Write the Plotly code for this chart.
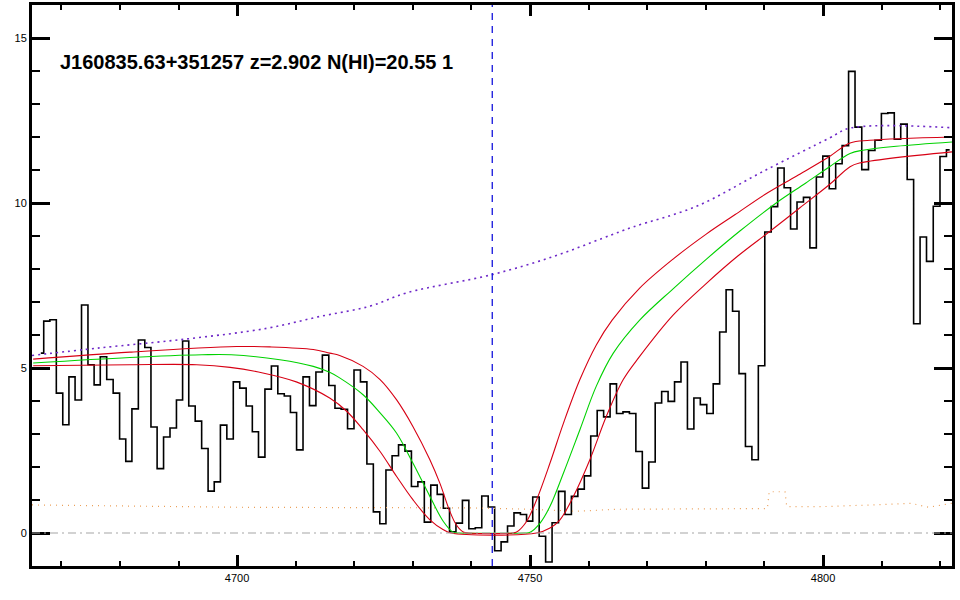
import plotly.graph_objects as go

# ---------------- data ----------------
wave = [4666.5, 4667.5, 4668.6, 4669.7, 4670.8, 4671.8, 4672.9, 4674.0, 4675.1, 4676.1,
        4677.2, 4678.3, 4679.4, 4680.5, 4681.5, 4682.6, 4683.7, 4684.8, 4685.8, 4686.9,
        4688.0, 4689.1, 4690.2, 4691.2, 4692.3, 4693.4, 4694.5, 4695.6, 4696.6, 4697.7,
        4698.8, 4699.9, 4701.0, 4702.1, 4703.1, 4704.2, 4705.3, 4706.4, 4707.5, 4708.6,
        4709.6, 4710.7, 4711.8, 4712.9, 4714.0, 4715.1, 4716.2, 4717.2, 4718.3, 4719.4,
        4720.5, 4721.6, 4722.7, 4723.8, 4724.9, 4725.9, 4727.0, 4728.1, 4729.2, 4730.3,
        4731.4, 4732.5, 4733.6, 4734.7, 4735.7, 4736.8, 4737.9, 4739.0, 4740.1, 4741.2,
        4742.3, 4743.4, 4744.5, 4745.6, 4746.7, 4747.8, 4748.9, 4749.9, 4751.0, 4752.1,
        4753.2, 4754.3, 4755.4, 4756.5, 4757.6, 4758.7, 4759.8, 4760.9, 4762.0, 4763.1,
        4764.2, 4765.3, 4766.4, 4767.5, 4768.6, 4769.7, 4770.8, 4771.9, 4773.0, 4774.1,
        4775.2, 4776.3, 4777.4, 4778.5, 4779.6, 4780.7, 4781.8, 4782.9, 4784.0, 4785.1,
        4786.2, 4787.3, 4788.4, 4789.5, 4790.6, 4791.7, 4792.8, 4793.9, 4795.0, 4796.1,
        4797.2, 4798.3, 4799.4, 4800.5, 4801.6, 4802.7, 4803.8, 4804.9, 4806.0, 4807.2,
        4808.3, 4809.4, 4810.5, 4811.6, 4812.7, 4813.8, 4814.9, 4816.0, 4817.1, 4818.2,
        4819.4, 4820.5, 4821.6]

flux = [5.45, 6.42, 6.46, 4.24, 3.28, 4.73, 4.03, 6.91, 5.10, 4.49,
        5.34, 4.65, 4.24, 2.85, 2.17, 3.76, 5.85, 5.62, 3.21, 1.95,
        2.91, 3.18, 4.03, 5.82, 3.85, 3.39, 2.56, 1.27, 1.55, 3.27,
        2.85, 4.58, 4.39, 3.85, 3.07, 2.30, 4.36, 5.06, 4.22, 4.15,
        3.65, 2.52, 4.73, 3.86, 4.88, 5.39, 4.47, 3.78, 3.75, 3.16,
        4.94, 4.58, 2.09, 0.64, 0.28, 1.91, 2.34, 2.67, 2.48, 1.41,
        1.55, 0.33, 1.45, 1.17, 0.75, 0.04, 0.30, 0.99, 0.13, 0.16,
        1.12, 0.79, -0.54, -0.27, 0.21, 0.61, 0.56, 0.36, 1.09, -0.10,
        -0.88, 0.31, 1.26, 0.56, 1.11, 1.33, 1.73, 2.94, 3.71, 3.52,
        4.52, 3.62, 3.67, 3.62, 2.47, 1.36, 2.15, 3.94, 4.29, 3.99,
        4.58, 5.18, 3.15, 4.09, 3.89, 3.62, 4.52, 6.09, 7.37, 6.72,
        4.83, 2.62, 2.22, 5.07, 9.12, 9.89, 11.06, 10.46, 9.21, 10.03,
        10.17, 8.64, 10.79, 11.42, 10.43, 11.19, 11.74, 13.99, 12.30, 11.01,
        11.59, 11.90, 12.71, 12.73, 11.93, 12.39, 10.71, 6.34, 8.97, 8.23,
        9.90, 11.41, 11.61]

err_wave = [4665, 4680, 4700, 4720, 4740, 4750, 4758, 4765, 4780, 4790.5,
            4790.8, 4793.5, 4793.8, 4800, 4810, 4815, 4818, 4822]
err_flux = [0.85, 0.82, 0.78, 0.77, 0.76, 0.72, 0.66, 0.72, 0.72, 0.74,
            1.25, 1.25, 0.80, 0.80, 0.86, 0.90, 0.78, 0.90]

cont_wave = [4665, 4676.6, 4691.4, 4705, 4714.1, 4722.6, 4729, 4743.5, 4754,
             4762.5, 4767.5, 4778.4, 4789.8, 4801.1, 4804.6, 4822]
cont_flux = [5.38, 5.61, 5.88, 6.20, 6.56, 6.87, 7.28, 7.83, 8.38,
             8.94, 9.27, 9.90, 10.96, 11.97, 12.27, 12.28]

fit_wave = [4665.2, 4681.7, 4694, 4699, 4707.3, 4713.0, 4715.8, 4717.5, 4721.5,
            4724.4, 4727.2, 4730.0, 4732.9, 4735.2, 4736.9, 4738, 4749, 4750,
            4751.7, 4753.4, 4755.7, 4758.5, 4761.3, 4764.2, 4768.7, 4774.4,
            4780.1, 4785.8, 4792, 4797, 4801.1, 4804.6, 4806.8, 4812.5, 4822]
fit_flux = [5.15, 5.32, 5.40, 5.40, 5.25, 5.05, 4.87, 4.70, 4.19,
            3.64, 3.03, 2.12, 1.11, 0.35, 0.02, 0.0, 0.0, 0.02,
            0.30, 0.81, 1.82, 3.13, 4.45, 5.45, 6.45, 7.40,
            8.30, 9.15, 10.00, 10.60, 11.10, 11.50, 11.60, 11.72, 11.85]

hi_wave = [4665.2, 4681.7, 4699.9, 4705.6, 4713.0, 4715.8, 4717.5, 4721.5, 4724.4,
           4727.2, 4730.0, 4732.9, 4734.6, 4736.3, 4737.4, 4738.6, 4739.5, 4747,
           4747.7, 4749.4, 4751.1, 4753.4, 4755.7, 4758.5, 4761.3, 4764.0,
           4768.7, 4774.4, 4780, 4785, 4790, 4795.5, 4801.1, 4804.6, 4808, 4822]
hi_flux = [5.27, 5.48, 5.65, 5.64, 5.56, 5.45, 5.38, 5.05, 4.65,
           4.04, 3.23, 2.22, 1.51, 0.66, 0.25, 0.03, 0.0, 0.0,
           0.03, 0.35, 1.00, 2.12, 3.33, 4.65, 5.70, 6.45,
           7.42, 8.30, 9.05, 9.65, 10.25, 10.82, 11.41, 11.82, 11.90, 12.00]

lo_wave = [4665.2, 4681.7, 4693.1, 4698.8, 4704.4, 4710.1, 4715.8, 4718.7, 4721.5,
           4724.4, 4727.2, 4730.0, 4732.9, 4735.2, 4736.5, 4751.1, 4753.4, 4755.1,
           4757.4, 4760.2, 4763.0, 4765.9, 4768.7, 4774.4, 4780, 4785.5, 4791,
           4796, 4801.1, 4804.6, 4806.2, 4822]
lo_flux = [5.07, 5.10, 5.10, 5.02, 4.85, 4.58, 4.09, 3.69, 3.13,
           2.47, 1.72, 1.01, 0.40, 0.10, 0.0, 0.0, 0.15, 0.40,
           1.11, 2.22, 3.53, 4.65, 5.35, 6.60, 7.55, 8.40, 9.15,
           9.85, 10.56, 11.10, 11.21, 11.55]

z_abs = 2.902
lya_rest = 1215.67
label = "J160835.63+351257 z=2.902 N(HI)=20.55 1"

# ---------------- figure ----------------
fig = go.Figure()

fig.add_trace(go.Scatter(x=wave, y=flux, mode="lines", line_shape="hvh",
                         line=dict(color="black", width=1.6), hoverinfo="skip"))
fig.add_trace(go.Scatter(x=err_wave, y=err_flux, mode="lines",
                         line=dict(color="rgb(235,160,90)", width=1.2, dash="1px,5px")))
fig.add_trace(go.Scatter(x=cont_wave, y=cont_flux, mode="lines", line_shape="spline",
                         line=dict(color="rgb(110,40,200)", width=1.6, dash="2px,4px")))
fig.add_trace(go.Scatter(x=fit_wave, y=fit_flux, mode="lines", line_shape="spline",
                         line=dict(color="rgb(0,210,0)", width=1.1)))
fig.add_trace(go.Scatter(x=hi_wave, y=hi_flux, mode="lines", line_shape="spline",
                         line=dict(color="rgb(215,0,20)", width=1.1)))
fig.add_trace(go.Scatter(x=lo_wave, y=lo_flux, mode="lines", line_shape="spline",
                         line=dict(color="rgb(215,0,20)", width=1.1)))

fig.add_hline(y=0, line=dict(color="rgb(165,165,165)", width=1, dash="8px,4px,2px,4px"))
fig.add_vline(x=lya_rest * (1 + z_abs),
              line=dict(color="rgb(20,20,220)", width=1.3, dash="7px,6px"))

fig.add_annotation(text=label, xref="paper", yref="paper", x=0.028, y=0.898,
                   xanchor="left", yanchor="middle", showarrow=False,
                   font=dict(family="Liberation Sans", size=20, color="black", weight="bold"))

tickfont = dict(family="Liberation Sans", size=11, color="black")
fig.update_xaxes(range=[4665, 4822], showline=True, linewidth=3, linecolor="black",
                 mirror="ticks", ticks="inside", ticklen=11, tickwidth=3, tickcolor="black",
                 tickvals=[4700, 4750, 4800], showgrid=False, zeroline=False,
                 tickfont=tickfont, automargin=False,
                 minor=dict(ticks="inside", ticklen=5, tickwidth=2, dtick=10,
                            tick0=4700, tickcolor="black", showgrid=False))
fig.update_yaxes(range=[-1, 16], showline=True, linewidth=3, linecolor="black",
                 mirror="ticks", ticks="inside", ticklen=18, tickwidth=3, tickcolor="black",
                 tickvals=[0, 5, 10, 15], showgrid=False, zeroline=False,
                 tickfont=tickfont, automargin=False,
                 minor=dict(ticks="inside", ticklen=8, tickwidth=2, dtick=1,
                            tick0=0, tickcolor="black", showgrid=False))

fig.update_layout(width=960, height=600, showlegend=False,
                  margin=dict(l=32, r=8, t=5, b=34),
                  paper_bgcolor="white", plot_bgcolor="white")

fig.write_html("out.html", config={"displayModeBar": False},
               post_script="document.body.style.margin='0px';document.body.style.overflow='hidden';")
